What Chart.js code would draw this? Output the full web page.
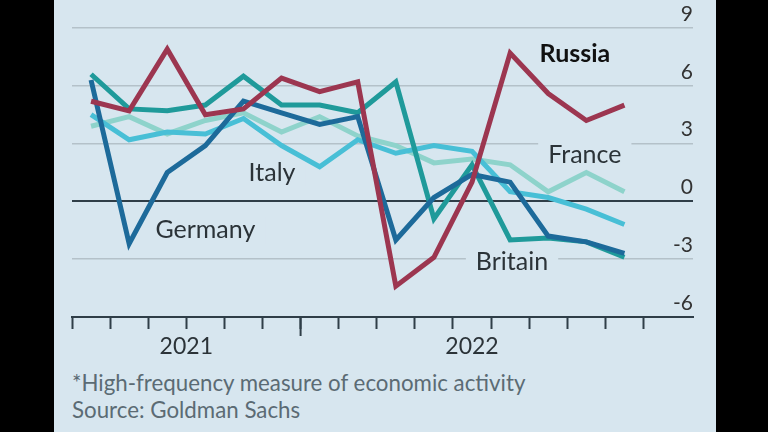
<!DOCTYPE html>
<html lang="en">
<head>
<meta charset="UTF-8">
<title>High-frequency economic activity</title>
<script src="https://cdn.jsdelivr.net/npm/chart.js@4"></script>
<style>
  html, body { margin: 0; padding: 0; background: #000; }
  body { width: 768px; height: 432px; position: relative; overflow: hidden; font-family: Lato, "Open Sans", sans-serif; }
  #panel { position: absolute; left: 54px; top: 0; width: 662px; height: 432px; background: #d7e6ef; }
  #chartBox { position: absolute; left: 0; top: 0; width: 662px; height: 362px; }
  .note { position: absolute; left: 18px; font-size: 22.3px; line-height: 25px; color: #5b6b74; white-space: nowrap; }
</style>
</head>
<body>
<div id="panel">
  <div id="chartBox"><canvas id="chart"></canvas></div>
  <div class="note" style="top:370px">*High-frequency measure of economic activity</div>
  <div class="note" style="top:397px">Source: Goldman Sachs</div>
</div>
<script>
// monthly readings, one per period (plotted at the middle of each period)
const russia  = [5.2, 4.7, 7.9, 4.5, 4.8, 6.4, 5.7, 6.2, -4.4, -2.9, 1.0, 7.7, 5.6, 4.2, 5.0];
const germany = [6.3, -2.2, 1.5, 2.9, 5.2, 4.6, 4.0, 4.4, -2.0, 0.2, 1.4, 1.0, -1.8, -2.1, -2.7];
const britain = [6.6, 4.8, 4.7, 5.0, 6.5, 5.0, 5.0, 4.6, 6.2, -0.9, 1.9, -2.0, -1.9, -2.1, -2.9];
const italy   = [4.5, 3.2, 3.6, 3.5, 4.3, 2.9, 1.8, 3.2, 2.5, 2.9, 2.6, 0.5, 0.2, -0.4, -1.2];
const france  = [3.9, 4.4, 3.5, 4.2, 4.6, 3.6, 4.4, 3.4, 2.9, 2.0, 2.2, 1.9, 0.5, 1.5, 0.5];

const periodTicks = [0, 1, 2, 3, 4, 5, 6, 7, 8, 9, 10, 11, 12, 13, 14, 15];
const yTicks = [-6, -3, 0, 3, 6, 9];
const yearLabels = ['2021', '2022'];
const yearAt = [3, 10.5];
const seriesNames = ['Russia', 'France', 'Italy', 'Germany', 'Britain'];
const nameX = [13.2, 13.46, 5.25, 3.5, 11.55];
const nameY = [7.65, 2.4, 1.5, -1.5, -3.15];

const BG = '#d7e6ef';
const DARK = '#2f3e48';

function pts(arr) { return arr.map((v, i) => ({ x: i + 0.5, y: v })); }

function line(label, data, color, order) {
  return { label, data: pts(data), borderColor: color, borderWidth: 5, pointRadius: 0, tension: 0, order };
}

const annotate = {
  id: 'annotate',
  beforeDatasetsDraw(chart) {
    const { ctx, scales: { x, y } } = chart;
    ctx.save();
    ctx.textAlign = 'center';
    ctx.textBaseline = 'middle';
    seriesNames.forEach((name, i) => {
      ctx.font = (name === 'Russia' ? 'bold ' : '') + '25px Lato, "Open Sans", sans-serif';
      const px = x.getPixelForValue(nameX[i]);
      const py = y.getPixelForValue(nameY[i]);
      const w = ctx.measureText(name).width;
      ctx.fillStyle = BG;
      ctx.fillRect(px - w / 2 - 10, py - 14, w + 20, 28);
      ctx.fillStyle = name === 'Russia' ? '#111' : '#2b3338';
      ctx.fillText(name, px, py);
    });
    ctx.restore();
  },
  afterDraw(chart) {
    const { ctx, scales: { x } } = chart;
    ctx.save();
    // longer tick
    const lx = x.getPixelForValue(6);
    ctx.strokeStyle = DARK;
    ctx.lineWidth = 2;
    ctx.beginPath();
    ctx.moveTo(lx, x.top);
    ctx.lineTo(lx, x.top + 19);
    ctx.stroke();
    ctx.font = '23px Lato, "Open Sans", sans-serif';
    ctx.fillStyle = '#2b3338';
    ctx.textAlign = 'center';
    ctx.textBaseline = 'middle';
    yearLabels.forEach((t, i) => ctx.fillText(t, x.getPixelForValue(yearAt[i]), x.top + 30));
    ctx.restore();
  }
};

new Chart(document.getElementById('chart'), {
  type: 'line',
  data: {
    datasets: [
      line('Russia', russia, '#9c3650', 1),
      line('Germany', germany, '#1d6a9a', 2),
      line('Britain', britain, '#1f9a9a', 3),
      line('Italy', italy, '#48bfd6', 4),
      line('France', france, '#8ed3cb', 5)
    ]
  },
  options: {
    responsive: true,
    maintainAspectRatio: false,
    animation: false,
    layout: { padding: { left: 18, top: 28, right: 23, bottom: 33 } },
    plugins: { legend: { display: false }, tooltip: { enabled: false } },
    scales: {
      x: {
        type: 'linear',
        min: 0,
        max: 16.3,
        afterBuildTicks: s => { s.ticks = periodTicks.map(v => ({ value: v })); },
        afterFit: s => { s.height = 12; },
        ticks: { display: false },
        grid: { drawOnChartArea: false, drawTicks: true, tickLength: 12, tickColor: DARK, tickWidth: 2 },
        border: { display: true, color: DARK, width: 2 }
      },
      y: {
        position: 'right',
        min: -6,
        max: 9,
        afterBuildTicks: s => { s.ticks = yTicks.map(v => ({ value: v })); },
        afterFit: s => { s.width = 0; },
        ticks: { mirror: true, padding: 0, labelOffset: -14, color: '#333', font: { size: 21, family: 'Lato, "Open Sans", sans-serif' } },
        grid: {
          drawTicks: false,
          color: c => (c.tick.value === 0 || c.tick.value === -6) ? DARK : '#b4c1c9',
          lineWidth: c => c.tick.value === 0 ? 2 : 1.5
        },
        border: { display: false }
      }
    }
  },
  plugins: [annotate]
});
</script>
</body>
</html>
